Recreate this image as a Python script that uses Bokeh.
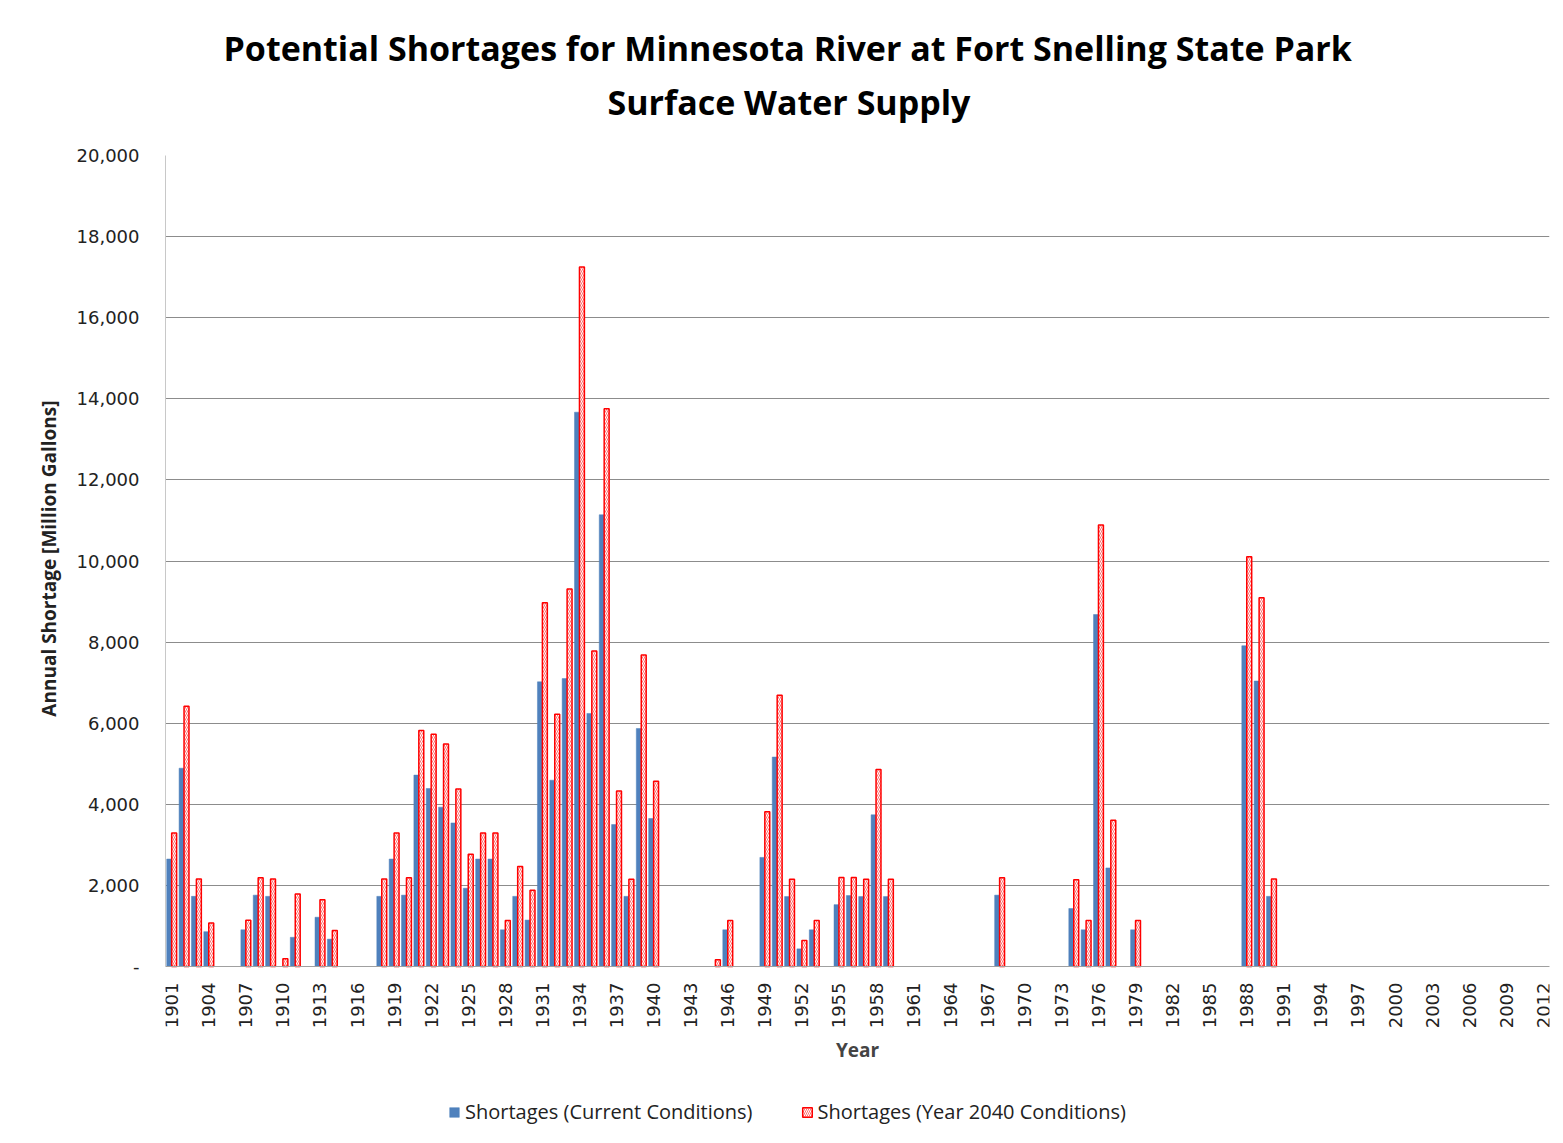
from bokeh.plotting import figure
from bokeh.models import (ColumnDataSource, FixedTicker, NumeralTickFormatter,
                          Title, Legend, LegendItem, Range1d)
from bokeh.embed import file_html
from bokeh.resources import INLINE
import math

# ---- data ----
years = [1901, 1902, 1903, 1904, 1907, 1908, 1909, 1910, 1911, 1913, 1914,
         1918, 1919, 1920, 1921, 1922, 1923, 1924, 1925, 1926, 1927, 1928,
         1929, 1930, 1931, 1932, 1933, 1934, 1935, 1936, 1937, 1938, 1939,
         1940, 1945, 1946, 1949, 1950, 1951, 1952, 1953, 1955, 1956, 1957,
         1958, 1959, 1968, 1974, 1975, 1976, 1977, 1979, 1988, 1989, 1990]

current = [2650, 4890, 1730, 860, 905, 1760, 1730, 0, 720, 1215, 675,
           1730, 2650, 1760, 4720, 4390, 3930, 3540, 1930, 2650, 2650, 905,
           1730, 1145, 7020, 4595, 7100, 13670, 6240, 11140, 3500, 1730, 5870,
           3650, 0, 905, 2690, 5165, 1725, 435, 905, 1525, 1750, 1725,
           3740, 1725, 1760, 1430, 905, 8680, 2430, 905, 7910, 7040, 1730]

future_2040 = [3290, 6420, 2155, 1070, 1140, 2190, 2155, 190, 1790, 1645, 890,
               2155, 3290, 2190, 5820, 5730, 5485, 4380, 2770, 3290, 3290, 1135,
               2465, 1880, 8970, 6220, 9310, 17250, 7780, 13755, 4325, 2150, 7680,
               4570, 165, 1135, 3815, 6690, 2150, 640, 1135, 2195, 2195, 2150,
               4860, 2150, 2190, 2140, 1136, 10890, 3605, 1136, 10105, 9095, 2155]

tick_years = list(range(1901, 2013, 3))
y_ticks = list(range(0, 20001, 2000))
y_min, y_max = 0, 20000

title_line1 = "Potential Shortages for Minnesota River at Fort Snelling State Park"
title_line2 = "Surface Water Supply"
y_title = "Annual Shortage [Million Gallons]"
x_title = "Year"
label_current = "Shortages (Current Conditions)"
label_2040 = "Shortages (Year 2040 Conditions)"

src = ColumnDataSource(dict(
    x_cur=[y - 0.2 for y in years],
    x_fut=[y + 0.2 for y in years],
    cur=current,
    fut=future_2040,
))

TICK_FONT = "DejaVu Sans"
TEXT_FONT = "Open Sans"

# frame: value axis occupies the top 811 px; the rest of the frame (below 0)
# holds the category labels and the legend
FRAME_H = 980
VALUE_H = 811
y_low = -(FRAME_H - VALUE_H) * (y_max - y_min) / VALUE_H

p = figure(width=1555, height=1140, title=None,
           x_range=Range1d(1900.5, 2012.5), y_range=Range1d(y_low, y_max),
           output_backend="svg", toolbar_location=None,
           min_border_left=165, min_border_right=6,
           min_border_top=155, min_border_bottom=5)
p.frame_width = 1384
p.frame_height = FRAME_H

blue = p.vbar(x="x_cur", top="cur", width=0.4, source=src,
              fill_color="#4F81BD", line_color="#4F81BD", line_width=0.5)
red = p.vbar(x="x_fut", top="fut", width=0.4, source=src,
             fill_color="#FFFFFF", line_color="#FF0000", line_width=1.5,
             hatch_pattern="left_diagonal_line", hatch_color="#FF7070",
             hatch_scale=4, hatch_weight=1)

# titles (first added is closest to the frame)
p.add_layout(Title(text=title_line2, align="left", offset=442,
                   text_font=TEXT_FONT, text_font_size="34px",
                   text_font_style="bold", text_color="#000000",
                   standoff=61), "above")
p.add_layout(Title(text=title_line1, align="left", offset=58,
                   text_font=TEXT_FONT, text_font_size="34px",
                   text_font_style="bold", text_color="#000000",
                   standoff=-48), "above")

# x axis sits at value 0
p.xaxis.fixed_location = 0
p.xaxis.ticker = FixedTicker(ticks=tick_years)
p.xaxis.major_label_orientation = math.pi / 2
p.xaxis.major_label_text_font = TICK_FONT
p.xaxis.major_label_text_font_size = "18px"
p.xaxis.major_label_text_color = "#222222"
p.xaxis.major_label_standoff = 10
p.xaxis.major_tick_line_color = None
p.xaxis.minor_tick_line_color = None
p.xaxis.axis_line_color = "#A0A0A0"
p.xaxis.axis_label = x_title
p.xaxis.axis_label_text_font = TEXT_FONT
p.xaxis.axis_label_text_font_size = "19px"
p.xaxis.axis_label_text_font_style = "bold"
p.xaxis.axis_label_standoff = 6

p.yaxis.bounds = (y_min, y_max)
p.yaxis.ticker = FixedTicker(ticks=y_ticks)
p.yaxis.formatter = NumeralTickFormatter(format="0,0")
p.yaxis.major_label_overrides = {0: "-"}
p.yaxis.major_label_text_font = TICK_FONT
p.yaxis.major_label_text_font_size = "18px"
p.yaxis.major_label_text_color = "#222222"
p.yaxis.major_label_standoff = 20
p.yaxis.major_tick_line_color = None
p.yaxis.minor_tick_line_color = None
p.yaxis.axis_line_color = "#C8C8C8"

# value-axis title, centred on the value part of the frame
p.add_layout(Title(text=y_title, align="right", offset=245,
                   text_font=TEXT_FONT, text_font_size="19px",
                   text_font_style="bold", text_color="#222222",
                   standoff=24), "left")

p.xgrid.grid_line_color = None
p.ygrid.grid_line_color = "#8C8C8C"
p.ygrid.grid_line_width = 1
p.outline_line_color = None
p.background_fill_color = "#FFFFFF"
p.border_fill_color = "#FFFFFF"

legend = Legend(items=[LegendItem(label=label_current, renderers=[blue]),
                       LegendItem(label=label_2040, renderers=[red])],
                orientation="horizontal", location=(283, 10),
                glyph_width=12, glyph_height=12, label_standoff=5, spacing=48,
                label_text_font=TEXT_FONT, label_text_font_size="20px",
                label_text_color="#222222", border_line_color=None,
                background_fill_alpha=0, padding=4, margin=0)
p.add_layout(legend, "center")

open("out.html", "w").write(file_html(p, INLINE))
